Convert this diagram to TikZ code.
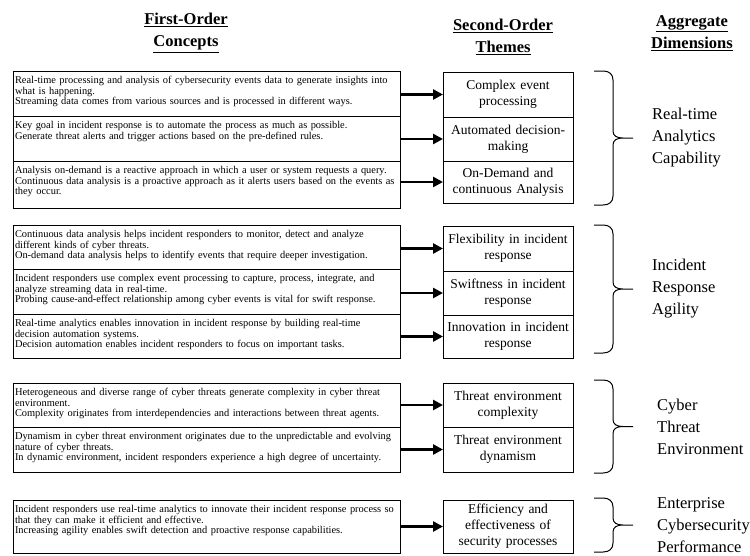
\documentclass[tikz,border=0pt]{standalone}
\usepackage{fontspec}
\setmainfont{Liberation Serif}
\usetikzlibrary{arrows.meta,positioning}

\newcommand{\dimbrace}[3]{%
  \pgfmathsetmacro{\brtop}{#2}\pgfmathsetmacro{\brbot}{#3}\pgfmathsetmacro{\brmid}{(#2+#3)/2}
  \draw[line width=1pt] (594,\brtop) -- (603,\brtop) .. controls (609,\brtop) and (613,\brtop+3) .. (613,\brtop+9)
    -- (613,\brmid-7) .. controls (613,\brmid-2) and (617,\brmid) .. (623,\brmid) -- (633,\brmid)
    (623,\brmid) .. controls (617,\brmid) and (613,\brmid+2) .. (613,\brmid+7)
    -- (613,\brbot-9) .. controls (613,\brbot-3) and (609,\brbot) .. (603,\brbot) -- (594,\brbot);
  \coordinate (#1) at (633,\brmid);
}

\begin{document}
\begin{tikzpicture}[x=1pt, y=-1pt,
  concept/.style={draw, line width=1pt, outer sep=0pt, inner sep=2pt, anchor=north west, text width=383pt, align=left, font=\fontsize{10.4}{10.6}\selectfont, text height=10.5pt, text depth=#1-14.5pt},
  theme/.style={draw, line width=1pt, outer sep=0pt, inner sep=2pt, anchor=north west, text width=126pt, minimum height=#1, align=center, font=\fontsize{13.5}{16}\selectfont},
  head/.style={align=center, font=\fontsize{16.5}{22}\selectfont\bfseries},
  dim/.style={align=left, anchor=west, inner sep=0pt, font=\fontsize{16.5}{22}\selectfont},
  arr/.style={-{Triangle[length=10pt,width=10pt]}, line width=2.5pt}
]
\useasboundingbox (0,0) rectangle (750,555);

\node[head] (concepts) at (186,33) {\underline{First-Order}\\\underline{Concepts}};
\node[head] (themes) at (503,37) {\underline{Second-Order}\\\underline{Themes}};
\node[head] (dims) at (692,33) {\underline{Aggregate}\\\underline{Dimensions}};

\node[concept=45] (c11) at (13,71) {Real-time processing and analysis of cybersecurity events data to generate insights into\\what is happening.\\Streaming data comes from various sources and is processed in different ways.};
\node[concept=45, below=0pt of c11] (c12) {Key goal in incident response is to automate the process as much as possible.\\Generate threat alerts and trigger actions based on the pre-defined rules.};
\node[concept=47, below=0pt of c12] (c13) {Analysis on-demand is a reactive approach in which a user or system requests a query.\\Continuous data analysis is a proactive approach as it alerts users based on the events as\\they occur.};
\node[theme=45] (t11) at (443,72) {Complex event\\processing};
\node[theme=44, below=0pt of t11] (t12) {Automated decision-\\making};
\node[theme=42, below=0pt of t12] (t13) {On-Demand and\\continuous Analysis};

\node[concept=44] (c21) at (13,225) {Continuous data analysis helps incident responders to monitor, detect and analyze\\different kinds of cyber threats.\\On-demand data analysis helps to identify events that require deeper investigation.};
\node[concept=45, below=0pt of c21] (c22) {Incident responders use complex event processing to capture, process, integrate, and\\analyze streaming data in real-time.\\Probing cause-and-effect relationship among cyber events is vital for swift response.};
\node[concept=44, below=0pt of c22] (c23) {Real-time analytics enables innovation in incident response by building real-time\\decision automation systems.\\Decision automation enables incident responders to focus on important tasks.};
\node[theme=45] (t21) at (443,226) {Flexibility in incident\\response};
\node[theme=44, below=0pt of t21] (t22) {Swiftness in incident\\response};
\node[theme=43, below=0pt of t22] (t23) {Innovation in incident\\response};

\node[concept=44] (c31) at (13,383) {Heterogeneous and diverse range of cyber threats generate complexity in cyber threat\\environment.\\Complexity originates from interdependencies and interactions between threat agents.};
\node[concept=45, below=0pt of c31] (c32) {Dynamism in cyber threat environment originates due to the unpredictable and evolving\\nature of cyber threats.\\In dynamic environment, incident responders experience a high degree of uncertainty.};
\node[theme=44] (t31) at (443,383) {Threat environment\\complexity};
\node[theme=45, below=0pt of t31] (t32) {Threat environment\\dynamism};

\node[concept=53] (c41) at (13,500) {Incident responders use real-time analytics to innovate their incident response process so\\that they can make it efficient and effective.\\Increasing agility enables swift detection and proactive response capabilities.};
\node[theme=53] (t41) at (443,500) {Efficiency and\\effectiveness of\\security processes};

\foreach \i in {11,12,13,21,22,23,31,32,41}
  \draw[arr] (c\i.east |- t\i.west) -- (t\i.west);

\dimbrace{b1}{71}{205}
\dimbrace{b2}{225}{353}
\dimbrace{b3}{380}{473}
\dimbrace{b4}{498}{552}

\node[dim, right=19pt of b1] (d1) {Real-time\\Analytics\\Capability};
\node[dim, right=19pt of b2] (d2) {Incident\\Response\\Agility};
\node[dim, right=24pt of b3] (d3) {Cyber\\Threat\\Environment};
\node[dim, right=24pt of b4] (d4) {Enterprise\\Cybersecurity\\Performance};
\end{tikzpicture}
\end{document}
